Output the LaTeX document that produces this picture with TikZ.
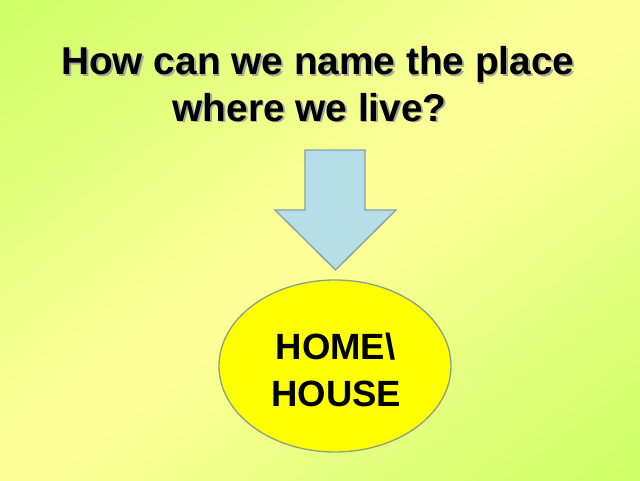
\documentclass[tikz,border=0pt]{standalone}
\usepackage{fontspec}
\setmainfont{Liberation Sans}
\usetikzlibrary{shapes.geometric}
\definecolor{grn}{RGB}{204,255,102}
\definecolor{yel}{RGB}{255,255,153}
\definecolor{arrowfill}{RGB}{183,221,232}
\definecolor{arrowline}{RGB}{130,160,172}
\definecolor{ellfill}{RGB}{255,255,0}
\definecolor{ellline}{RGB}{140,160,130}
\definecolor{shadowgray}{RGB}{165,168,150}
\newcommand{\shadowed}[1]{\rlap{\hspace{1.8pt}\raisebox{-1.8pt}{\textcolor{shadowgray}{#1}}}#1}
\tikzset{
  titletext/.style={inner sep=0pt, anchor=base west, font=\fontsize{38.8}{46}\selectfont\bfseries, text=black},
  answertext/.style={inner sep=0pt, anchor=base, font=\fontsize{36.5}{44}\selectfont\bfseries, text=black},
  bigarrow/.style={fill=arrowfill, draw=arrowline, line width=1.3pt, line join=miter},
  answerell/.style={ellipse, fill=ellfill, draw=ellline, line width=1.3pt, minimum width=232pt, minimum height=172pt, inner sep=0pt}
}
\begin{document}
\begin{tikzpicture}[x=1pt,y=-1pt]
\useasboundingbox (0,0) rectangle (640,480);
% background gradient (green corners, yellow anti-diagonal band)
\begin{scope}
\clip (0,0) rectangle (640,480);
\foreach \i in {0,...,191} {
  \pgfmathsetmacro{\u}{-384+4*\i}
  \pgfmathsetmacro{\v}{\u+4.8}
  \pgfmathsetmacro{\t}{min(100,abs(\u+2)/384*100)}
  \fill[grn!\t!yel]
    ({320+0.6*\u+0.8*450},{240+0.8*\u-0.6*450}) --
    ({320+0.6*\u-0.8*450},{240+0.8*\u+0.6*450}) --
    ({320+0.6*\v-0.8*450},{240+0.8*\v+0.6*450}) --
    ({320+0.6*\v+0.8*450},{240+0.8*\v-0.6*450}) -- cycle;
}
\end{scope}
% title with shadow
\node[titletext] (t1) at (61,74.3) {\shadowed{How can we name the place}};
\node[titletext] (t2) at (172.5,121) {\shadowed{where we live?}};
% arrow
\coordinate (arrowtip) at (335.5,270);
\draw[bigarrow] (305,150) -- (365,150) -- (365,210) -- (396,210) -- (arrowtip) -- (275,210) -- (305,210) -- cycle;
% ellipse
\node[answerell] (ans) at (335,366) {};
\node[answertext] (home) at (335.5,359.3) {HOME\textbackslash};
\node[answertext] (house) at (336.3,406) {HOUSE};
\end{tikzpicture}
\end{document}
